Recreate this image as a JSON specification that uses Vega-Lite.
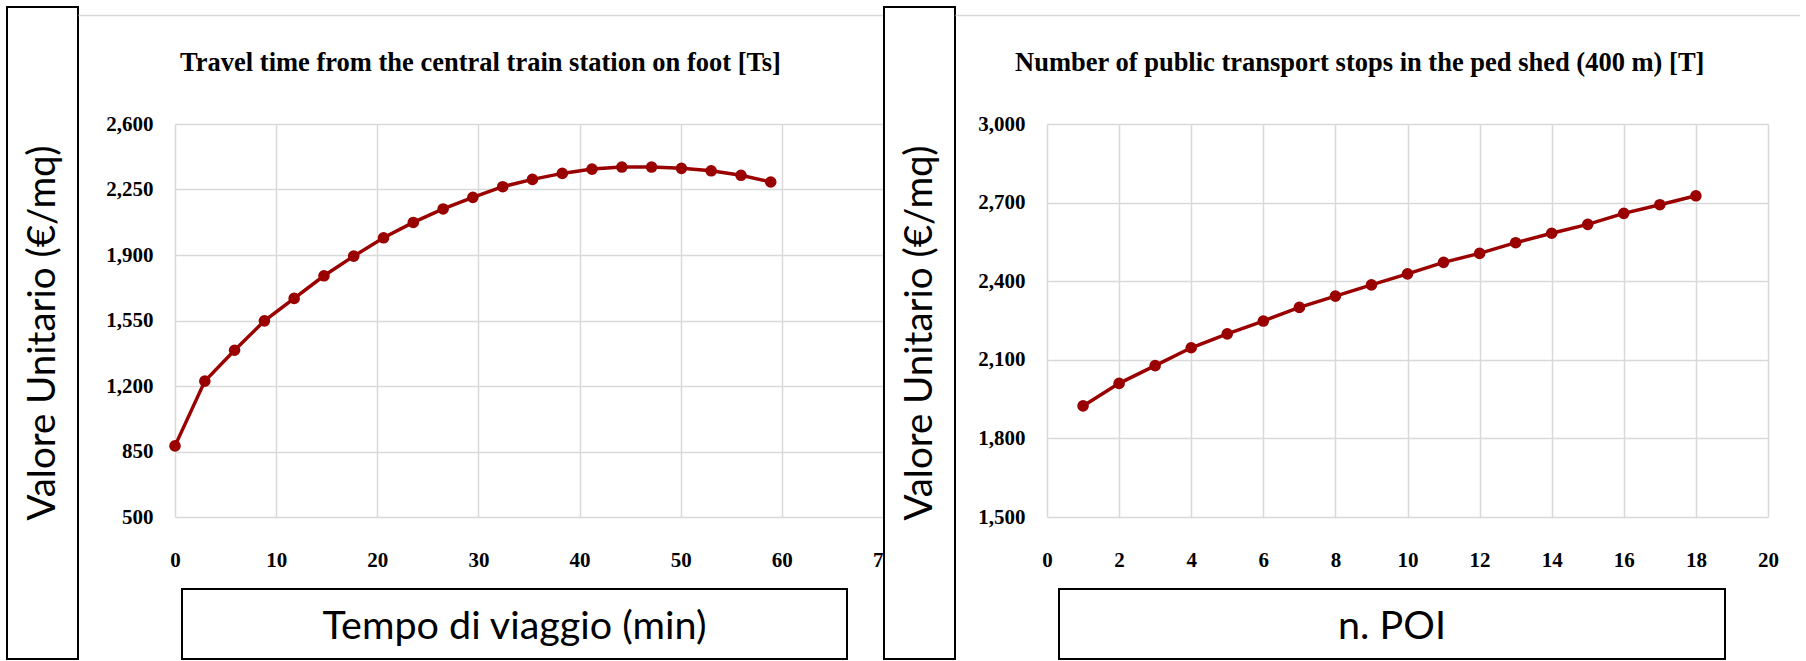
{
  "$schema": "https://vega.github.io/schema/vega-lite/v6.json",
  "background": "white",
  "padding": {"left": 6, "top": 6, "right": 0, "bottom": 0},
  "config": {
    "view": {"stroke": null},
    "axis": {
      "labelFont": "Liberation Serif",
      "labelFontWeight": "bold",
      "labelFontSize": 21,
      "labelColor": "#000000",
      "labelFlush": false,
      "ticks": false,
      "tickSize": 0,
      "domain": false,
      "grid": true,
      "gridColor": "#d9d9d9",
      "gridWidth": 1.5
    }
  },
  "datasets": {
    "travel": [
      {"tempo": 0, "valore": 880},
      {"tempo": 2.95, "valore": 1226},
      {"tempo": 5.89, "valore": 1391},
      {"tempo": 8.84, "valore": 1548},
      {"tempo": 11.78, "valore": 1668},
      {"tempo": 14.73, "valore": 1789},
      {"tempo": 17.67, "valore": 1894},
      {"tempo": 20.62, "valore": 1992},
      {"tempo": 23.56, "valore": 2074},
      {"tempo": 26.51, "valore": 2146},
      {"tempo": 29.45, "valore": 2208},
      {"tempo": 32.4, "valore": 2265},
      {"tempo": 35.34, "valore": 2304},
      {"tempo": 38.29, "valore": 2336},
      {"tempo": 41.23, "valore": 2359},
      {"tempo": 44.18, "valore": 2370},
      {"tempo": 47.12, "valore": 2370},
      {"tempo": 50.07, "valore": 2363},
      {"tempo": 53.01, "valore": 2350},
      {"tempo": 55.96, "valore": 2326},
      {"tempo": 58.9, "valore": 2290}
    ],
    "stops": [
      {"poi": 1, "valore": 1924},
      {"poi": 2, "valore": 2010},
      {"poi": 3, "valore": 2078},
      {"poi": 4, "valore": 2146},
      {"poi": 5, "valore": 2199},
      {"poi": 6, "valore": 2248},
      {"poi": 7, "valore": 2300},
      {"poi": 8, "valore": 2343},
      {"poi": 9, "valore": 2386},
      {"poi": 10, "valore": 2428},
      {"poi": 11, "valore": 2472},
      {"poi": 12, "valore": 2506},
      {"poi": 13, "valore": 2547},
      {"poi": 14, "valore": 2583},
      {"poi": 15, "valore": 2617},
      {"poi": 16, "valore": 2659},
      {"poi": 17, "valore": 2692},
      {"poi": 18, "valore": 2726}
    ]
  },
  "bounds": "full",
  "spacing": 0,
  "hconcat": [
    {
      "bounds": "flush",
      "spacing": 0,
      "hconcat": [
        {
          "width": 71,
          "height": 652,
          "view": {"stroke": "black", "strokeWidth": 2, "fill": "white"},
          "data": {"values": [{"label": "Valore Unitario (€/mq)"}]},
          "mark": {"type": "text", "angle": 270, "font": "Lato", "fontSize": 38.5, "align": "center", "baseline": "middle", "color": "#000000"},
          "encoding": {"text": {"field": "label"}}
        },
        {
          "bounds": "flush",
          "spacing": 6,
          "vconcat": [
            {
              "width": 805,
              "height": 111,
              "data": {"values": [{"title": "Travel time from the central train station on foot [Ts]"}]},
              "mark": {"type": "text", "font": "Liberation Serif", "fontWeight": "bold", "fontSize": 26.5, "align": "center", "baseline": "middle", "color": "#000000"},
              "encoding": {
                "text": {"field": "title"},
                "x": {
                  "datum": 0.5,
                  "type": "quantitative",
                  "scale": {"domain": [0, 1], "nice": false},
                  "axis": {"orient": "top", "offset": -8, "domain": true, "domainColor": "#d9d9d9", "domainWidth": 1.5, "labels": false, "ticks": false, "grid": false, "title": null}
                }
              }
            },
            {
              "bounds": "flush",
              "spacing": 96,
              "hconcat": [
                {
                  "width": 1,
                  "height": 1,
                  "data": {"values": [{}]},
                  "mark": {"type": "text", "text": ""}
                },
                {
                  "bounds": "flush",
                  "spacing": 72,
                  "vconcat": [
                    {
                      "width": 708,
                      "height": 393,
                      "data": {"name": "travel"},
                      "mark": {"type": "line", "color": "#9a0000", "strokeWidth": 3.5, "point": {"filled": true, "size": 135, "color": "#9a0000"}},
                      "encoding": {
                        "x": {
                          "field": "tempo",
                          "type": "quantitative",
                          "scale": {"domain": [0, 70], "nice": false, "zero": false},
                          "axis": {
                            "values": [0, 10, 20, 30, 40, 50, 60, 70],
                            "format": "d",
                            "labelExpr": "datum.value == 70 ? '7' : datum.label",
                            "labelAlign": {"condition": {"test": "datum.value == 70", "value": "right"}, "value": "center"},
                            "labelPadding": 32,
                            "title": null
                          }
                        },
                        "y": {
                          "field": "valore",
                          "type": "quantitative",
                          "scale": {"domain": [500, 2600], "nice": false, "zero": false},
                          "axis": {"values": [500, 850, 1200, 1550, 1900, 2250, 2600], "format": ",d", "labelPadding": 22, "title": null}
                        }
                      }
                    },
                    {
                      "bounds": "flush",
                      "spacing": 6,
                      "hconcat": [
                        {
                          "width": 1,
                          "height": 1,
                          "data": {"values": [{}]},
                          "mark": {"type": "text", "text": ""}
                        },
                        {
                          "width": 665,
                          "height": 70,
                          "view": {"stroke": "black", "strokeWidth": 2, "fill": "white"},
                          "data": {"values": [{"label": "Tempo di viaggio (min)"}]},
                          "mark": {"type": "text", "font": "Lato", "fontSize": 39.5, "align": "center", "baseline": "middle", "dy": 3, "color": "#000000"},
                          "encoding": {"text": {"field": "label"}}
                        }
                      ]
                    }
                  ]
                }
              ]
            }
          ]
        }
      ]
    },
    {
      "bounds": "flush",
      "spacing": 0,
      "hconcat": [
        {
          "width": 71,
          "height": 652,
          "view": {"stroke": "black", "strokeWidth": 2, "fill": "white"},
          "data": {"values": [{"label": "Valore Unitario (€/mq)"}]},
          "mark": {"type": "text", "angle": 270, "font": "Lato", "fontSize": 38.5, "align": "center", "baseline": "middle", "color": "#000000"},
          "encoding": {"text": {"field": "label"}}
        },
        {
          "bounds": "flush",
          "spacing": 6,
          "vconcat": [
            {
              "width": 845,
              "height": 111,
              "data": {"values": [{"title": "Number of public transport stops in the ped shed (400 m) [T]"}]},
              "mark": {"type": "text", "font": "Liberation Serif", "fontWeight": "bold", "fontSize": 26.5, "align": "center", "baseline": "middle", "color": "#000000"},
              "encoding": {
                "text": {"field": "title"},
                "x": {
                  "datum": 0.479,
                  "type": "quantitative",
                  "scale": {"domain": [0, 1], "nice": false},
                  "axis": {"orient": "top", "offset": -8, "domain": true, "domainColor": "#d9d9d9", "domainWidth": 1.5, "labels": false, "ticks": false, "grid": false, "title": null}
                }
              }
            },
            {
              "bounds": "flush",
              "spacing": 91,
              "hconcat": [
                {
                  "width": 1,
                  "height": 1,
                  "data": {"values": [{}]},
                  "mark": {"type": "text", "text": ""}
                },
                {
                  "bounds": "flush",
                  "spacing": 72,
                  "vconcat": [
                    {
                      "width": 721,
                      "height": 393,
                      "data": {"name": "stops"},
                      "mark": {"type": "line", "color": "#9a0000", "strokeWidth": 3.5, "point": {"filled": true, "size": 135, "color": "#9a0000"}},
                      "encoding": {
                        "x": {
                          "field": "poi",
                          "type": "quantitative",
                          "scale": {"domain": [0, 20], "nice": false, "zero": false},
                          "axis": {"values": [0, 2, 4, 6, 8, 10, 12, 14, 16, 18, 20], "format": "d", "labelPadding": 32, "title": null}
                        },
                        "y": {
                          "field": "valore",
                          "type": "quantitative",
                          "scale": {"domain": [1500, 3000], "nice": false, "zero": false},
                          "axis": {"values": [1500, 1800, 2100, 2400, 2700, 3000], "format": ",d", "labelPadding": 22, "title": null}
                        }
                      }
                    },
                    {
                      "bounds": "flush",
                      "spacing": 11,
                      "hconcat": [
                        {
                          "width": 1,
                          "height": 1,
                          "data": {"values": [{}]},
                          "mark": {"type": "text", "text": ""}
                        },
                        {
                          "width": 666,
                          "height": 70,
                          "view": {"stroke": "black", "strokeWidth": 2, "fill": "white"},
                          "data": {"values": [{"label": "n. POI"}]},
                          "mark": {"type": "text", "font": "Lato", "fontSize": 39.5, "align": "center", "baseline": "middle", "dy": 3, "color": "#000000"},
                          "encoding": {"text": {"field": "label"}}
                        }
                      ]
                    }
                  ]
                }
              ]
            }
          ]
        }
      ]
    }
  ]
}
